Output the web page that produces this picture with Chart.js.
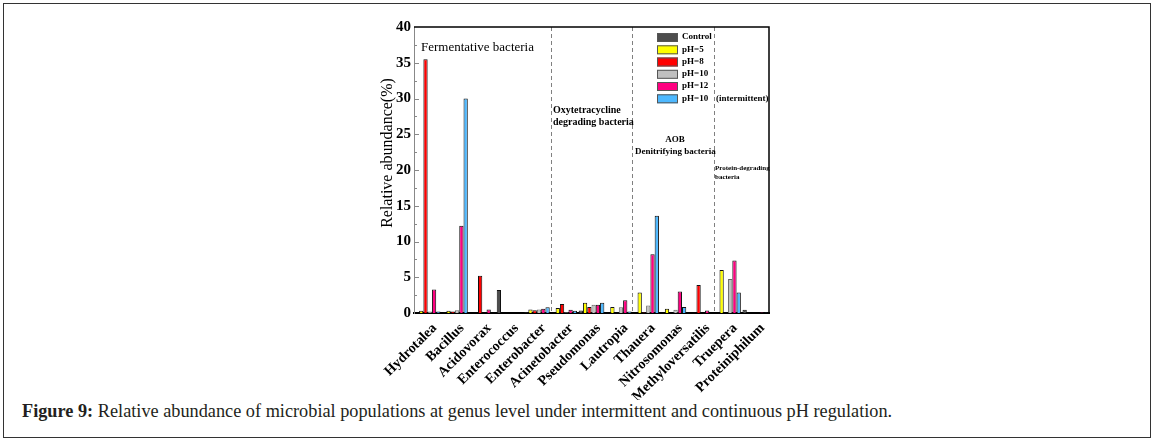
<!DOCTYPE html>
<html>
<head>
<meta charset="utf-8">
<script src="https://cdn.jsdelivr.net/npm/chart.js@4.4.1/dist/chart.umd.min.js"></script>
<style>
html,body{margin:0;padding:0;background:#fff;width:1155px;height:443px;overflow:hidden;}
#frame{position:absolute;left:3px;top:3px;width:1148px;height:435px;border:1.5px solid #333;box-sizing:border-box;}
#wrap{position:absolute;left:0;top:0;width:1155px;height:400px;}
#caption{position:absolute;left:22px;top:401px;font-family:'Liberation Serif','Times New Roman',serif;font-size:17px;color:#231f20;white-space:nowrap;}
</style>
</head>
<body>
<div id="frame"></div>
<div id="wrap"><canvas id="c" width="1155" height="400"></canvas></div>
<div id="caption"><b>Figure 9:</b> Relative abundance of microbial populations at genus level under intermittent and continuous pH regulation.</div>
<script>
// ---- data ----
const categories = ['Hydrotalea','Bacillus','Acidovorax','Enterococcus','Enterobacter','Acinetobacter','Pseudomonas','Lautropia','Thauera','Nitrosomonas','Methyloversatilis','Truepera','Proteiniphilum'];
const seriesNames = ['Control','pH=5','pH=8','pH=10','pH=12','pH=10'];
const control = [0.05, 0.05, 0,   3.2, 0.1, 0.05, 0.35, 0,    0,    0,    0,    0,    0.45];
const pH5     = [0.3,  0.3,  0,   0,   0.5, 0.7,  1.45, 0.85, 2.85, 0.6,  0,    6.0,  0];
const pH8     = [35.5, 0.2,  5.2, 0,   0.4, 1.25, 0.85, 0,    0.1,  0,    3.9,  0,    0];
const pH10    = [0.2,  0.4,  0,   0,   0.5, 0.1,  1.15, 0.8,  1.05, 0.45, 0,    4.75, 0];
const pH12    = [3.3,  12.2, 0.5, 0,   0.6, 0.45, 1.15, 1.8,  8.2,  3.0,  0.35, 7.35, 0.1];
const pH10int = [0.2,  30.0, 0,   0,   0.8, 0.3,  1.45, 0.2,  13.6, 0.85, 0,    2.85, 0.05];
const yTickValues = [0,5,10,15,20,25,30,35,40];
const groupBoundaries = [5, 8, 11]; // dashed separators before these category indices

const fills   = ['#4d4d4d','#ffff00','#ff0000','#c0c0c0','#ff0080','#4db8ff'];
const borders = ['#111111','#111111','#111111','#666666','#111111','#111111'];
const allSeries = [control, pH5, pH8, pH10, pH12, pH10int];

const SERIF = "'Liberation Serif', 'Times New Roman', serif";

// fit caption to the reference width
(function(){
  const cap = document.getElementById('caption');
  const target = 871;
  const w = cap.getBoundingClientRect().width;
  if (w > 0) cap.style.fontSize = (17 * target / w).toFixed(2) + 'px';
})();

const decorPlugin = {
  id: 'decor',
  afterDraw(chart) {
    const ctx = chart.ctx, a = chart.chartArea, xs = chart.scales.x, ys = chart.scales.y;
    ctx.save();
    // dashed group separators
    ctx.strokeStyle = '#808080'; ctx.lineWidth = 1; ctx.setLineDash([4,3]);
    groupBoundaries.forEach(i => {
      const px = Math.round((xs.getPixelForValue(i-1) + xs.getPixelForValue(i)) / 2) + 0.5;
      ctx.beginPath(); ctx.moveTo(px, a.top); ctx.lineTo(px, a.bottom); ctx.stroke();
    });
    ctx.setLineDash([]);
    // frame top & right
    ctx.strokeStyle = '#000'; ctx.lineWidth = 1.5;
    ctx.beginPath(); ctx.moveTo(a.left, a.top); ctx.lineTo(a.right, a.top); ctx.lineTo(a.right, a.bottom); ctx.stroke();
    // inward y ticks (major + minor)
    ctx.strokeStyle = '#888'; ctx.lineWidth = 1;
    yTickValues.forEach(v => {
      if (v === 0 || v === 40) return;
      const py = Math.round(ys.getPixelForValue(v)) + 0.5;
      ctx.beginPath(); ctx.moveTo(a.left, py); ctx.lineTo(a.left + 5, py); ctx.stroke();
    });
    for (let v = 2.5; v < 40; v += 5) {
      const py = Math.round(ys.getPixelForValue(v)) + 0.5;
      ctx.beginPath(); ctx.moveTo(a.left, py); ctx.lineTo(a.left + 3, py); ctx.stroke();
    }
    // x category labels (rotated 45°)
    ctx.fillStyle = '#000';
    ctx.font = 'bold 14px ' + SERIF;
    ctx.textAlign = 'right'; ctx.textBaseline = 'middle';
    categories.forEach((c, i) => {
      const px = xs.getPixelForValue(i);
      ctx.save();
      ctx.translate(px + 7, a.bottom + 13);
      ctx.rotate(-Math.PI / 4);
      ctx.fillText(c, 0, 0);
      ctx.restore();
    });
    // y title
    ctx.font = '16px ' + SERIF;
    ctx.textAlign = 'center'; ctx.textBaseline = 'middle';
    ctx.save();
    ctx.translate(388, 153); ctx.rotate(-Math.PI/2);
    ctx.fillText('Relative abundance(%)', 0, 0);
    ctx.restore();
    // annotations
    ctx.textAlign = 'left'; ctx.textBaseline = 'middle';
    ctx.font = '13px ' + SERIF;
    ctx.fillText('Fermentative bacteria', 421, 48);
    ctx.font = 'bold 10px ' + SERIF;
    ctx.fillText('Oxytetracycline', 553, 110);
    ctx.fillText('degrading bacteria', 553, 122);
    ctx.font = 'bold 9px ' + SERIF;
    ctx.textAlign = 'center';
    ctx.fillText('AOB', 675, 140);
    ctx.textAlign = 'left';
    ctx.fillText('Denitrifying bacteria', 635, 152);
    ctx.font = 'bold 7px ' + SERIF;
    ctx.fillText('Protein-degrading', 715, 168);
    ctx.fillText('bacteria', 715, 177);
    // legend
    const rowY = [37, 49.3, 61.5, 73.8, 86, 98.3];
    ctx.font = 'bold 9px ' + SERIF;
    seriesNames.forEach((n, i) => {
      ctx.fillStyle = fills[i]; ctx.strokeStyle = '#555'; ctx.lineWidth = 1;
      ctx.fillRect(657, rowY[i]-4, 21, 9);
      ctx.strokeRect(657.5, rowY[i]-3.5, 20, 8);
      ctx.fillStyle = '#000';
      ctx.fillText(n, 682, rowY[i]);
    });
    ctx.fillText('(intermittent)', 716, rowY[5]);
    ctx.restore();
  }
};

new Chart(document.getElementById('c'), {
  type: 'bar',
  data: {
    labels: categories,
    datasets: allSeries.map((d, i) => ({
      label: seriesNames[i],
      data: d,
      backgroundColor: fills[i],
      borderColor: borders[i],
      borderWidth: 1,
      categoryPercentage: 0.94,
      barPercentage: 1.0
    }))
  },
  options: {
    responsive: false,
    animation: false,
    devicePixelRatio: 1,
    layout: { padding: { left: 374, right: 386, top: 27, bottom: 0 } },
    plugins: { legend: { display: false }, tooltip: { enabled: false } },
    scales: {
      x: {
        grid: { display: false, drawTicks: false },
        border: { display: true, color: '#000', width: 2 },
        ticks: { display: false },
        afterFit(s) { s.height = 87; }
      },
      y: {
        min: 0, max: 40,
        afterBuildTicks(s) { s.ticks = yTickValues.map(v => ({ value: v })); },
        grid: { display: false, drawTicks: false },
        border: { display: true, color: '#888', width: 1 },
        ticks: { padding: 3, color: '#000', font: { family: SERIF, size: 15, weight: 'bold' } },
        afterFit(s) { s.width = 40; }
      }
    }
  },
  plugins: [decorPlugin]
});
</script>
</body>
</html>
